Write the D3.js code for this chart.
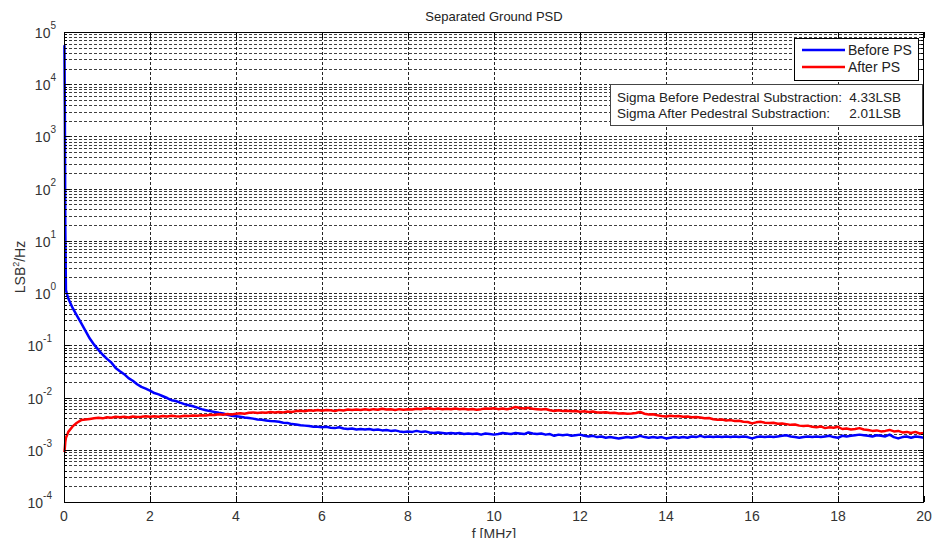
<!DOCTYPE html>
<html>
<head>
<meta charset="utf-8">
<script src="https://cdn.jsdelivr.net/npm/d3@7"></script>
<style>
  body { margin: 0; background: #fff; }
  text { font-family: "Liberation Sans", Arial, sans-serif; }
</style>
</head>
<body>
<div id="psd"></div>
<script>
// frequency bins in MHz: a few low bins, then a 0.1 MHz grid up to 20
var lowFreq = [0.01, 0.02, 0.03, 0.045, 0.07];
var gridFreq = d3.range(1, 201).map(function(i){ return i / 10; });

// PSD values, LSB^2/Hz
var beforeLow = [5.6e4, 3.0e3, 18, 1.15, 0.95];
var afterLow = [0.0009, 0.0011, 0.0014, 0.0017, 0.0019];

// 0.1 .. 20 MHz, in units of 1e-3 LSB^2/Hz
var beforeGrid = [
  790, 520, 370, 265, 190, 135, 103, 82, 66, 55,
  47, 37, 32, 28, 23.5, 21, 18, 16, 14.8, 13.6,
  12.2, 11.5, 10.6, 9.8, 8.9, 8.6, 8.0, 7.5, 7.1, 6.8,
  6.4, 6.0, 5.7, 5.5, 5.3, 5.1, 4.95, 4.7, 4.5, 4.4,
  4.3, 4.15, 4.05, 3.95, 3.8, 3.75, 3.65, 3.55, 3.5, 3.45,
  3.3, 3.25, 3.1, 3.05, 2.95, 2.9, 2.85, 2.75, 2.75, 2.7,
  2.75, 2.65, 2.6, 2.7, 2.55, 2.5, 2.55, 2.45, 2.5, 2.45,
  2.5, 2.4, 2.45, 2.35, 2.4, 2.3, 2.35, 2.25, 2.2, 2.25,
  2.2, 2.3, 2.2, 2.25, 2.15, 2.1, 2.15, 2.1, 2.05, 2.1,
  2.05, 2.1, 2.0, 2.05, 2.0, 2.05, 1.95, 2.05, 2.0, 1.95,
  2.0, 2.1, 2.05, 2.0, 2.1, 2.05, 2.0, 2.15, 2.05, 2.0,
  2.05, 1.95, 2.0, 1.85, 1.95, 1.9, 1.95, 1.85, 1.9, 1.95,
  1.85, 1.8, 1.85, 1.75, 1.8, 1.7, 1.75, 1.7, 1.65, 1.7,
  1.75, 1.7, 1.75, 1.85, 1.75, 1.7, 1.75, 1.7, 1.75, 1.65,
  1.7, 1.75, 1.7, 1.75, 1.7, 1.8, 1.75, 1.85, 1.75, 1.8,
  1.75, 1.8, 1.75, 1.8, 1.75, 1.8, 1.75, 1.8, 1.75, 1.65,
  1.75, 1.8, 1.75, 1.8, 1.75, 1.8, 1.85, 1.9, 1.8, 1.75,
  1.7, 1.75, 1.8, 1.75, 1.8, 1.75, 1.8, 1.85, 1.75, 1.7,
  1.85, 1.8, 1.85, 1.9, 1.95, 1.9, 1.85, 1.8, 1.9, 1.85,
  1.8, 1.95, 1.75, 1.65, 1.75, 1.8, 1.7, 1.8, 1.75, 1.7
];
var afterGrid = [
  2.2, 2.8, 3.3, 3.7, 3.8, 3.9, 4.0, 4.1, 4.0, 4.2,
  4.1, 4.3, 4.2, 4.3, 4.15, 4.35, 4.25, 4.3, 4.4, 4.3,
  4.4, 4.3, 4.45, 4.35, 4.5, 4.4, 4.35, 4.5, 4.45, 4.55,
  4.5, 4.6, 4.55, 4.7, 4.65, 4.8, 4.7, 4.85, 4.75, 4.9,
  5.0, 4.9, 5.1, 5.2, 5.05, 5.2, 5.1, 5.3, 5.2, 5.3,
  5.2, 5.4, 5.3, 5.5, 5.6, 5.45, 5.7, 5.6, 5.75, 5.6,
  5.8, 5.7, 5.5, 5.8, 5.65, 5.9, 5.75, 5.9, 5.8, 5.95,
  5.8, 6.0, 5.85, 6.1, 5.9, 5.95, 5.8, 6.0, 5.85, 6.0,
  5.9, 6.1, 5.95, 6.2, 6.25, 6.0, 6.15, 5.95, 6.1, 6.0,
  6.15, 5.95, 6.1, 5.9, 6.05, 5.85, 6.0, 6.2, 6.1, 6.25,
  6.0, 6.15, 5.95, 6.2, 6.6, 6.3, 6.15, 6.35, 6.1, 6.0,
  5.9, 6.05, 5.7, 5.55, 5.7, 5.5, 5.6, 5.45, 5.55, 5.35,
  5.45, 5.3, 5.4, 5.2, 5.15, 5.25, 5.05, 5.1, 4.95, 5.0,
  4.9, 4.95, 5.05, 5.3, 4.9, 4.75, 4.8, 4.6, 4.45, 4.35,
  4.5, 4.4, 4.45, 4.3, 4.35, 4.2, 4.25, 4.15, 4.0, 4.05,
  3.85, 3.75, 3.8, 3.65, 3.7, 3.55, 3.6, 3.45, 3.4, 3.2,
  3.35, 3.45, 3.3, 3.25, 3.3, 3.15, 3.2, 3.1, 3.0, 3.05,
  2.9, 2.85, 2.9, 2.75, 2.7, 2.8, 2.6, 2.7, 2.65, 2.75,
  2.5, 2.55, 2.45, 2.5, 2.6, 2.45, 2.4, 2.3, 2.35, 2.25,
  2.3, 2.4, 2.25, 2.3, 2.15, 2.2, 2.1, 2.2, 2.05, 2.1
];

var xTicks = [0, 2, 4, 6, 8, 10, 12, 14, 16, 18, 20];
var yExponents = [-4, -3, -2, -1, 0, 1, 2, 3, 4, 5];
var seriesNames = ["Before PS", "After PS"];
var sigmaLabels = ["Sigma Before Pedestral Substraction:", "Sigma After Pedestral Substraction:"];
var sigmaValues = ["4.33LSB", "2.01LSB"];

var width = 933;
var height = 538;
var plotL = 64, plotR = 924, plotT = 32, plotB = 502;

function toSeries(lowVals, gridVals){
    var pts = lowFreq.map(function(f, i){ return [f, lowVals[i]]; });
    gridFreq.forEach(function(f, i){ pts.push([f, gridVals[i] * 1e-3]); });
    return pts;
}
var before = toSeries(beforeLow, beforeGrid);
var after = toSeries(afterLow, afterGrid);

var x = d3.scaleLinear().domain([0, 20]).range([plotL, plotR]);
var y = d3.scaleLog().domain([1e-4, 1e5]).range([plotB, plotT]);

var svg = d3.select("#psd")
    .append("svg")
    .attr("width", width)
    .attr("height", height);

// grid
var minor = [];
var major = [];
yExponents.forEach(function(e){
    if (e > -4 && e < 5) major.push(Math.pow(10, e));
    if (e < 5) for (var k = 2; k <= 9; k++) minor.push(k * Math.pow(10, e));
});

var grid = svg.append("g").attr("stroke", "#000").attr("stroke-width", 1)
    .attr("stroke-dasharray", "3,2").attr("fill", "none");

grid.selectAll(".ymin").data(minor).enter().append("line")
    .attr("x1", plotL).attr("x2", plotR)
    .attr("y1", function(d){ return Math.round(y(d)) + 0.5; })
    .attr("y2", function(d){ return Math.round(y(d)) + 0.5; })
    .attr("stroke-opacity", 0.75);

grid.selectAll(".ymaj").data(major).enter().append("line")
    .attr("x1", plotL).attr("x2", plotR)
    .attr("y1", function(d){ return Math.round(y(d)) + 0.5; })
    .attr("y2", function(d){ return Math.round(y(d)) + 0.5; })
    .attr("stroke-opacity", 0.85);

grid.selectAll(".xg").data(xTicks.slice(1, -1)).enter().append("line")
    .attr("x1", function(d){ return Math.round(x(d)) + 0.5; })
    .attr("x2", function(d){ return Math.round(x(d)) + 0.5; })
    .attr("y1", plotT).attr("y2", plotB)
    .attr("stroke-opacity", 0.85);

// curves
svg.append("clipPath").attr("id", "clip")
    .append("rect").attr("x", plotL - 2).attr("y", plotT)
    .attr("width", plotR - plotL + 2).attr("height", plotB - plotT);

var line = d3.line()
    .x(function(d){ return x(d[0]); })
    .y(function(d){ return y(d[1]); });

svg.append("path").datum(before)
    .attr("clip-path", "url(#clip)")
    .attr("d", line)
    .attr("fill", "none")
    .attr("stroke", "#0000ff")
    .attr("stroke-width", 2.5)
    .attr("stroke-linejoin", "round");

svg.append("path").datum(after)
    .attr("clip-path", "url(#clip)")
    .attr("d", line)
    .attr("fill", "none")
    .attr("stroke", "#ff0000")
    .attr("stroke-width", 2.5)
    .attr("stroke-linejoin", "round");

// box and inward ticks
svg.append("rect")
    .attr("x", plotL + 0.5).attr("y", plotT + 0.5)
    .attr("width", plotR - plotL - 1).attr("height", plotB - plotT)
    .attr("fill", "none").attr("stroke", "#000");

var ticks = svg.append("g").attr("stroke", "#000");
xTicks.forEach(function(t){
    var px = Math.round(x(t)) + 0.5;
    ticks.append("line").attr("x1", px).attr("x2", px).attr("y1", plotB).attr("y2", plotB - 6);
    ticks.append("line").attr("x1", px).attr("x2", px).attr("y1", plotT).attr("y2", plotT + 6);
});
major.concat(minor).forEach(function(v){
    var py = Math.round(y(v)) + 0.5;
    var len = major.indexOf(v) >= 0 ? 6 : 3;
    ticks.append("line").attr("x1", plotL).attr("x2", plotL + len).attr("y1", py).attr("y2", py);
    ticks.append("line").attr("x1", plotR).attr("x2", plotR - len).attr("y1", py).attr("y2", py);
});

// tick labels
svg.selectAll(".xl").data(xTicks).enter().append("text")
    .attr("x", function(d){ return x(d); })
    .attr("y", plotB + 19)
    .attr("text-anchor", "middle")
    .style("font-size", "14px")
    .style("fill", "#333")
    .text(function(d){ return d; });

var yl = svg.selectAll(".yl").data(yExponents).enter().append("text")
    .attr("x", 48)
    .attr("y", function(d){ return y(Math.pow(10, d)) + 6; })
    .attr("text-anchor", "end")
    .style("font-size", "14px")
    .style("fill", "#333");
yl.append("tspan").text("10");
yl.append("tspan").attr("dy", -9).style("font-size", "10px").text(function(d){ return d; });
yl.attr("transform", function(d){ return "translate(" + (d < 0 ? 4 : 8) + ",0)"; });

// title and axis labels
svg.append("text")
    .attr("x", (plotL + plotR) / 2).attr("y", 21)
    .attr("text-anchor", "middle")
    .style("font-size", "13px")
    .style("fill", "#222")
    .text("Separated Ground PSD");

svg.append("text")
    .attr("x", (plotL + plotR) / 2).attr("y", 539)
    .attr("text-anchor", "middle")
    .style("font-size", "14px")
    .style("fill", "#333")
    .text("f [MHz]");

var ylab = svg.append("text")
    .attr("transform", "translate(25," + ((plotT + plotB) / 2) + ") rotate(-90)")
    .attr("text-anchor", "middle")
    .style("font-size", "14px")
    .style("fill", "#333");
ylab.append("tspan").text("LSB");
ylab.append("tspan").attr("dy", -6).style("font-size", "9px").text("2");
ylab.append("tspan").attr("dy", 6).text("/Hz");

// legend
var colors = ["#0000ff", "#ff0000"];
svg.append("rect")
    .attr("x", 794.5).attr("y", 38.5).attr("width", 124).attr("height", 42)
    .attr("fill", "#fff").attr("stroke", "#000");
seriesNames.forEach(function(name, i){
    var ly = 50 + i * 17;
    svg.append("line").attr("x1", 802).attr("x2", 845).attr("y1", ly).attr("y2", ly)
        .attr("stroke", colors[i]).attr("stroke-width", 2.5);
    svg.append("text").attr("x", 848).attr("y", ly + 5)
        .style("font-size", "14px").style("fill", "#222").text(name);
});

// sigma annotation
svg.append("rect")
    .attr("x", 610.5).attr("y", 84.5).attr("width", 312).attr("height", 41)
    .attr("fill", "#fff").attr("stroke", "#444");
sigmaLabels.forEach(function(lab, i){
    svg.append("text").attr("x", 617).attr("y", 102 + i * 16)
        .style("font-size", "13.5px").style("fill", "#222").text(lab);
    svg.append("text").attr("x", 901).attr("y", 102 + i * 16)
        .attr("text-anchor", "end")
        .style("font-size", "13.5px").style("fill", "#222").text(sigmaValues[i]);
});
</script>
</body>
</html>
